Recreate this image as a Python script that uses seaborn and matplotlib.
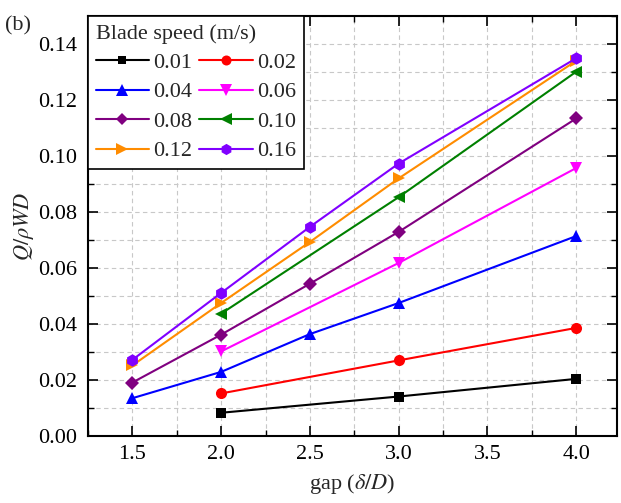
import matplotlib
matplotlib.use("Agg")
import matplotlib.pyplot as plt
from matplotlib.ticker import MultipleLocator, FormatStrFormatter
from matplotlib.lines import Line2D
import seaborn as sns
import pandas as pd

speeds = ["0.01", "0.02", "0.04", "0.06", "0.08", "0.10", "0.12", "0.16"]
gap_01 = [2.0, 3.0, 4.0]
q_01 = [0.0083, 0.0141, 0.0204]
gap_02 = [2.0, 3.0, 4.0]
q_02 = [0.0152, 0.0270, 0.0386]
gap_04 = [1.5, 2.0, 2.5, 3.0, 4.0]
q_04 = [0.0135, 0.0229, 0.0364, 0.0475, 0.0714]
gap_06 = [2.0, 3.0, 4.0]
q_06 = [0.0302, 0.0618, 0.0957]
gap_08 = [1.5, 2.0, 2.5, 3.0, 4.0]
q_08 = [0.0191, 0.0362, 0.0544, 0.0729, 0.1134]
gap_10 = [2.0, 3.0, 4.0]
q_10 = [0.0437, 0.0853, 0.1301]
gap_12 = [1.5, 2.0, 2.5, 3.0, 4.0]
q_12 = [0.0252, 0.0475, 0.0693, 0.0920, 0.1340]
gap_16 = [1.5, 2.0, 2.5, 3.0, 4.0]
q_16 = [0.0272, 0.0511, 0.0747, 0.0973, 0.1349]

gaps = [gap_01, gap_02, gap_04, gap_06, gap_08, gap_10, gap_12, gap_16]
qs = [q_01, q_02, q_04, q_06, q_08, q_10, q_12, q_16]
colors = ["#000000", "#FF0000", "#0000FF", "#FF00FF", "#800080", "#008000", "#FF8C00", "#8000FF"]
markers = ["s", "o", "^", "v", "D", "<", ">", "h"]
msizes = [7, 8, 9, 9, 7, 9, 9, 9]

sns.set_theme(style="ticks")
plt.rcParams["font.family"] = ["Liberation Serif", "DejaVu Serif"]
plt.rcParams["mathtext.fontset"] = "stix"

fig = plt.figure(figsize=(6.21, 5.03), dpi=100)
ax = fig.add_axes([88/621, 1-436/503, (617-88)/621, (436-16)/503])

for sp, g, q, c, m, ms in zip(speeds, gaps, qs, colors, markers, msizes):
    df = pd.DataFrame({"gap": g, "Q": q})
    sns.lineplot(data=df, x="gap", y="Q", ax=ax, color=c, marker=m, markersize=ms,
                 markeredgewidth=0, linewidth=1.5, legend=False, zorder=3)

ax.set_xlim(1.25, 4.23)
ax.set_ylim(0, 0.15)
ax.xaxis.set_major_locator(MultipleLocator(0.5))
ax.xaxis.set_minor_locator(MultipleLocator(0.25))
ax.yaxis.set_major_locator(MultipleLocator(0.02))
ax.yaxis.set_minor_locator(MultipleLocator(0.01))
ax.xaxis.set_major_formatter(FormatStrFormatter("%.1f"))
ax.yaxis.set_major_formatter(FormatStrFormatter("%.2f"))
ax.grid(which="both", ls=(0, (4, 3)), color="#c8c8c8", lw=0.8, zorder=0)
ax.tick_params(which="both", direction="in", top=True, right=True, labelsize=16, colors="black")
ax.tick_params(which="major", length=7, width=1.2)
ax.tick_params(which="minor", length=4, width=1.0)
ax.tick_params(axis="x", which="major", pad=6.5)
ax.tick_params(axis="y", which="major", pad=8)
for s in ax.spines.values():
    s.set_color("black")
    s.set_linewidth(1.5)

ax.set_xlabel(r"gap ($\delta/D$)", fontsize=16, labelpad=6)
ax.set_ylabel(r"$Q/\rho WD$", fontsize=16, labelpad=1)

handles = [Line2D([], [], color=c, marker=m, markersize=ms * 0.9, markeredgewidth=0, lw=1.5)
           for c, m, ms in zip(colors, markers, msizes)]
# matplotlib fills legend columns first; reorder so rows read 0.01 0.02 / 0.04 0.06 ...
order = [0, 2, 4, 6, 1, 3, 5, 7]
leg = ax.legend([handles[i] for i in order], [speeds[i] for i in order], ncol=2,
                title="Blade speed (m/s)", loc="upper left",
                bbox_to_anchor=(0, 1), borderaxespad=0, fancybox=False, edgecolor="black",
                framealpha=1, fontsize=16, title_fontsize=16, handlelength=2.4,
                columnspacing=0.3, labelspacing=0.4, handletextpad=0.2, borderpad=0.35)
leg.get_frame().set_linewidth(1.2)
leg._legend_box.align = "left"
leg.set_zorder(5)

fig.text(5/621, 1-30/503, "(b)", fontsize=16)

fig.savefig("out.png", dpi=100)
